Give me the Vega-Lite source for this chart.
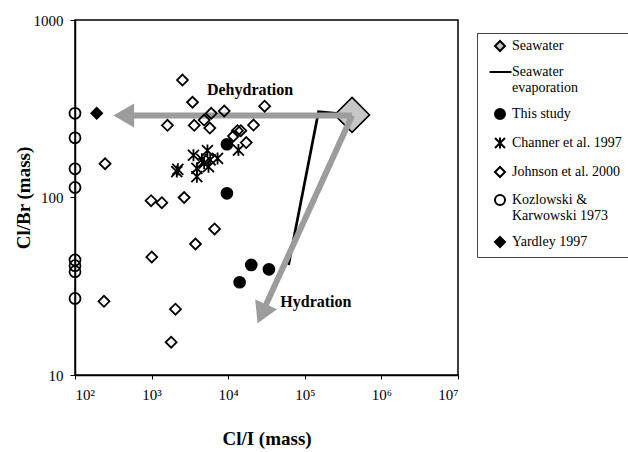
{
  "$schema": "https://vega.github.io/schema/vega-lite/v6.json",
  "width": 383,
  "height": 355,
  "autosize": {"type": "none"},
  "padding": {"left": 75, "top": 20, "right": 170, "bottom": 77},
  "background": "white",
  "config": {
    "view": {"stroke": "black", "strokeWidth": 1.5},
    "axis": {
      "labelFont": "Liberation Serif", "labelFontSize": 15, "labelColor": "black",
      "titleFont": "Liberation Serif", "titleFontSize": 19, "titleFontWeight": "bold", "titleColor": "black",
      "domainColor": "black", "domainWidth": 1.5, "tickColor": "black", "tickWidth": 1, "tickSize": 4, "grid": false
    }
  },
  "datasets": {
    "samples": [
      {"series": "Kozlowski & Karwowski 1973", "clI": 100, "clBr": 298},
      {"series": "Kozlowski & Karwowski 1973", "clI": 100, "clBr": 217},
      {"series": "Kozlowski & Karwowski 1973", "clI": 100, "clBr": 145},
      {"series": "Kozlowski & Karwowski 1973", "clI": 100, "clBr": 114},
      {"series": "Kozlowski & Karwowski 1973", "clI": 100, "clBr": 44.5},
      {"series": "Kozlowski & Karwowski 1973", "clI": 100, "clBr": 41.3},
      {"series": "Kozlowski & Karwowski 1973", "clI": 100, "clBr": 38.2},
      {"series": "Kozlowski & Karwowski 1973", "clI": 100, "clBr": 27},
      {"series": "Yardley 1997", "clI": 192, "clBr": 298},
      {"series": "Johnson et al. 2000", "clI": 2530, "clBr": 459},
      {"series": "Johnson et al. 2000", "clI": 3420, "clBr": 344},
      {"series": "Johnson et al. 2000", "clI": 6000, "clBr": 298},
      {"series": "Johnson et al. 2000", "clI": 8870, "clBr": 307},
      {"series": "Johnson et al. 2000", "clI": 1610, "clBr": 255},
      {"series": "Johnson et al. 2000", "clI": 3600, "clBr": 255},
      {"series": "Johnson et al. 2000", "clI": 4850, "clBr": 273},
      {"series": "Johnson et al. 2000", "clI": 5750, "clBr": 246},
      {"series": "Johnson et al. 2000", "clI": 21400, "clBr": 256},
      {"series": "Johnson et al. 2000", "clI": 247, "clBr": 155},
      {"series": "Johnson et al. 2000", "clI": 29900, "clBr": 327},
      {"series": "Johnson et al. 2000", "clI": 13200, "clBr": 238},
      {"series": "Johnson et al. 2000", "clI": 14600, "clBr": 238},
      {"series": "Johnson et al. 2000", "clI": 11700, "clBr": 222},
      {"series": "Johnson et al. 2000", "clI": 17200, "clBr": 204},
      {"series": "Johnson et al. 2000", "clI": 985, "clBr": 96},
      {"series": "Johnson et al. 2000", "clI": 1360, "clBr": 93.5},
      {"series": "Johnson et al. 2000", "clI": 2660, "clBr": 100},
      {"series": "Johnson et al. 2000", "clI": 6640, "clBr": 66.5},
      {"series": "Johnson et al. 2000", "clI": 3740, "clBr": 54.7},
      {"series": "Johnson et al. 2000", "clI": 1005, "clBr": 46.2},
      {"series": "Johnson et al. 2000", "clI": 239, "clBr": 26},
      {"series": "Johnson et al. 2000", "clI": 2050, "clBr": 23.5},
      {"series": "Johnson et al. 2000", "clI": 1800, "clBr": 15.3},
      {"series": "Channer et al. 1997", "clI": 2200, "clBr": 144},
      {"series": "Channer et al. 1997", "clI": 2130, "clBr": 140},
      {"series": "Channer et al. 1997", "clI": 3520, "clBr": 173},
      {"series": "Channer et al. 1997", "clI": 5360, "clBr": 184},
      {"series": "Channer et al. 1997", "clI": 4530, "clBr": 164},
      {"series": "Channer et al. 1997", "clI": 5820, "clBr": 163},
      {"series": "Channer et al. 1997", "clI": 7260, "clBr": 166},
      {"series": "Channer et al. 1997", "clI": 5530, "clBr": 149},
      {"series": "Channer et al. 1997", "clI": 3900, "clBr": 146},
      {"series": "Channer et al. 1997", "clI": 3900, "clBr": 131},
      {"series": "Channer et al. 1997", "clI": 13600, "clBr": 185},
      {"series": "Channer et al. 1997", "clI": 4850, "clBr": 156}
    ],
    "thisStudy": [
      {"series": "This study", "clI": 9620, "clBr": 199.5},
      {"series": "This study", "clI": 9620, "clBr": 105.6},
      {"series": "This study", "clI": 20000, "clBr": 41.7},
      {"series": "This study", "clI": 34000, "clBr": 39.4},
      {"series": "This study", "clI": 14100, "clBr": 33.3}
    ],
    "seawater": [{"series": "Seawater", "clI": 414000, "clBr": 292}],
    "evaporation": [
      {"order": 1, "clI": 414000, "clBr": 292},
      {"order": 2, "clI": 151000, "clBr": 304},
      {"order": 3, "clI": 61400, "clBr": 41.7}
    ],
    "arrows": [
      {"name": "Dehydration", "clI": 414000, "clBr": 290, "clI2": 433, "clBr2": 290},
      {"name": "Hydration", "clI": 414000, "clBr": 290, "clI2": 27500, "clBr2": 22.1}
    ],
    "headLeft": [{"clI": 433, "clBr": 290}],
    "headDown": [{"clI": 27500, "clBr": 22.1}],
    "labels": [
      {"label": "Dehydration", "clI": 5280, "clBr": 404},
      {"label": "Hydration", "clI": 47900, "clBr": 25.8}
    ]
  },
  "encoding": {
    "x": {
      "field": "clI", "type": "quantitative",
      "scale": {"type": "log", "domain": [100, 10000000]},
      "axis": {
        "title": "Cl/I (mass)",
        "values": [100, 1000, 10000, 100000, 1000000, 10000000],
        "labelExpr": "'10' + ['⁰','¹','²','³','⁴','⁵','⁶','⁷'][round(log(datum.value)/LN10)]",
        "labelPadding": 8, "titlePadding": 27
      }
    },
    "y": {
      "field": "clBr", "type": "quantitative",
      "scale": {"type": "log", "domain": [10, 1000]},
      "axis": {
        "title": "Cl/Br (mass)", "values": [10, 100, 1000], "format": "d",
        "tickSize": 5, "labelPadding": 7, "titlePadding": 0
      }
    }
  },
  "layer": [
    {
      "data": {"name": "evaporation"},
      "mark": {"type": "line", "color": "black", "strokeWidth": 2.7},
      "encoding": {"order": {"field": "order", "type": "quantitative"}}
    },
    {
      "data": {"name": "seawater"},
      "mark": {"type": "point", "shape": "diamond", "filled": true, "fill": "#c6c6c6", "stroke": "black", "strokeWidth": 1.5, "size": 1225, "opacity": 1}
    },
    {
      "data": {"name": "arrows"},
      "mark": {"type": "rule", "color": "#9c9c9c", "strokeWidth": 6},
      "encoding": {"x2": {"field": "clI2"}, "y2": {"field": "clBr2"}}
    },
    {
      "data": {"name": "headLeft"},
      "mark": {"type": "point", "shape": "triangle-left", "filled": true, "fill": "#9c9c9c", "size": 576, "opacity": 1}
    },
    {
      "data": {"name": "headDown"},
      "mark": {"type": "point", "shape": "triangle-down", "angle": 24.4, "filled": true, "fill": "#9c9c9c", "size": 576, "opacity": 1}
    },
    {
      "data": {"name": "samples"},
      "mark": {"type": "point", "filled": true, "size": 120, "strokeWidth": 1.8, "opacity": 1},
      "encoding": {
        "shape": {
          "field": "series", "type": "nominal",
          "scale": {
            "domain": ["Seawater", "Seawater evaporation", "This study", "Channer et al. 1997", "Johnson et al. 2000", "Kozlowski & Karwowski 1973", "Yardley 1997"],
            "range": ["diamond", "M-2.1,0L2.3,0", "circle", "M-1,-1L1,1M-1,1L1,-1M0,-1.1L0,1.1", "diamond", "circle", "diamond"]
          },
          "legend": {
            "title": null, "orient": "none", "legendX": 402, "legendY": 13,
            "labelFont": "Liberation Serif", "labelFontSize": 14, "labelColor": "black", "labelLimit": 400,
            "labelExpr": "datum.label == 'Seawater evaporation' ? ['Seawater', 'evaporation'] : datum.label == 'Kozlowski & Karwowski 1973' ? ['Kozlowski &', 'Karwowski 1973'] : datum.label",
            "symbolSize": 100, "symbolStrokeWidth": 2,
            "strokeColor": "#444", "fillColor": "white", "padding": 6, "rowPadding": 10,
            "symbolOffset": 10, "labelOffset": 5
          }
        },
        "fill": {
          "field": "series", "type": "nominal",
          "scale": {
            "domain": ["Seawater", "Seawater evaporation", "This study", "Channer et al. 1997", "Johnson et al. 2000", "Kozlowski & Karwowski 1973", "Yardley 1997"],
            "range": ["#c6c6c6", "transparent", "black", "transparent", "transparent", "transparent", "black"]
          }
        },
        "stroke": {
          "field": "series", "type": "nominal",
          "scale": {
            "domain": ["Seawater", "Seawater evaporation", "This study", "Channer et al. 1997", "Johnson et al. 2000", "Kozlowski & Karwowski 1973", "Yardley 1997"],
            "range": ["black", "black", "black", "black", "black", "black", "black"]
          }
        }
      }
    },
    {
      "data": {"name": "thisStudy"},
      "mark": {"type": "point", "shape": "circle", "filled": true, "fill": "black", "size": 160, "opacity": 1}
    },
    {
      "data": {"name": "labels"},
      "mark": {"type": "text", "font": "Liberation Serif", "fontWeight": "bold", "fontSize": 16, "align": "left", "baseline": "middle", "color": "black"},
      "encoding": {"text": {"field": "label"}}
    }
  ]
}
